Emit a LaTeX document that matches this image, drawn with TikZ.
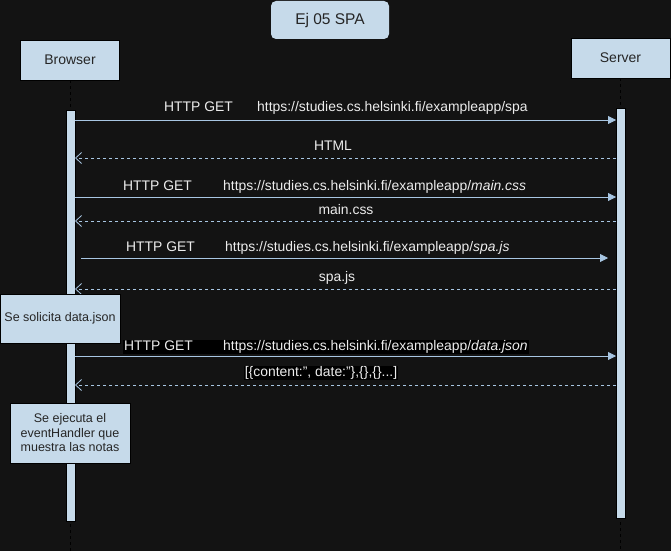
\documentclass[tikz,border=0pt]{standalone}
\usepackage{fontspec}
\setmainfont{Liberation Sans}
\usetikzlibrary{arrows.meta,positioning}
\definecolor{bgdark}{RGB}{19,19,19}
\definecolor{boxblue}{RGB}{198,218,234}
\definecolor{msgblue}{RGB}{168,198,226}
\definecolor{txtgrey}{RGB}{236,236,236}

\begin{document}
\begin{tikzpicture}[x=1pt,y=-1pt,
  actor/.style={
    draw=black, fill=boxblue, line width=0.8pt,
    minimum width=99pt, minimum height=40pt,
    font=\fontsize{14}{16}\selectfont, text=black!85
  },
  bar/.style={draw=black, fill=boxblue, line width=0.8pt, minimum width=9pt, inner sep=0pt},
  note/.style={
    draw=black, fill=boxblue, line width=0.8pt, minimum width=120pt,
    font=\fontsize{12.5}{14.5}\selectfont, text=black!85, align=center
  },
  lifeline/.style={dashed, black, line width=0.6pt},
  msg/.style={font=\fontsize{13.9}{15}\selectfont, text=txtgrey, inner sep=1pt},
  call/.style={msgblue, line width=0.8pt, -{Triangle[length=8pt,width=8pt]}},
  reply/.style={msgblue, line width=0.8pt, dashed, dash pattern=on 3pt off 3pt,
    -{Straight Barb[length=6pt,width=11pt]}}
]
% background and frame
\fill[bgdark] (0,0) rectangle (671,551);
\useasboundingbox (0,0) rectangle (671,551);

% --- title and actors ---
\node[actor, fill=boxblue, draw=none, rounded corners=5pt, font=\fontsize{15.5}{17}\selectfont,
  minimum width=118pt, minimum height=38pt] (title) at (330,20) {Ej 05 SPA};
\node[actor] (browser) at (70,60) {Browser};
\node[actor] (server) at (620.5,58) {Server};

% --- lifelines ---
\coordinate (bEnd) at (70,551);
\coordinate (sEnd) at (620.5,551);
\draw[lifeline] (browser.south) -- (bEnd);
\draw[lifeline] (server.south) -- (sEnd);

\node[bar, minimum height=411pt] (bBar) at (70.5,315.5) {};
\node[bar, minimum height=410pt] (sBar) at (620.5,313) {};

% message end points
\foreach \n/\y in {1/120,2/158,3/197,4/221,5/258,6/289,7/356,8/385} {
  \coordinate (b\n) at (75,\y);
  \coordinate (s\n) at (616,\y);
}

% --- messages ---
\draw[call] (b1) -- (s1);
\node[msg, anchor=west] (l1) at (163,108)
  {\makebox[93pt][l]{HTTP GET}https://studies.cs.helsinki.fi/exampleapp/spa};

\draw[reply] (s2) -- (b2);
\node[msg] (l2) at (333,146) {HTML};

\draw[call] (b3) -- (s3);
\node[msg, anchor=west] (l3) at (122,187)
  {\makebox[100pt][l]{HTTP GET}https://studies.cs.helsinki.fi/exampleapp/\textit{main.css}};

\draw[reply] (s4) -- (b4);
\node[msg] (l4) at (346,210) {main.css};

\draw[call, shorten <=6pt, shorten >=8pt] (b5) -- (s5);
\node[msg, anchor=west] (l5) at (125,248)
  {\makebox[99pt][l]{HTTP GET}https://studies.cs.helsinki.fi/exampleapp/\textit{spa.js}};

\draw[reply] (s6) -- (b6);
\node[msg] (l6) at (337,278) {spa.js};

\node[note, minimum height=49pt] (n1) at (60,318.5) {Se solicita data.json};

\draw[call] (b7) -- (s7);
\node[msg, anchor=west, fill=black] (l7) at (123,347)
  {\makebox[99pt][l]{HTTP GET}https://studies.cs.helsinki.fi/exampleapp/\textit{data.json}};

\draw[reply] (s8) -- (b8);
\node[msg, fill=black] (l8) at (321,373) {[\{content:'', date:''\},\{\},\{\}...]};

\node[note, minimum height=60pt] (n2) at (70,433)
  {Se ejecuta el\\eventHandler que\\muestra las notas};
\end{tikzpicture}
\end{document}
